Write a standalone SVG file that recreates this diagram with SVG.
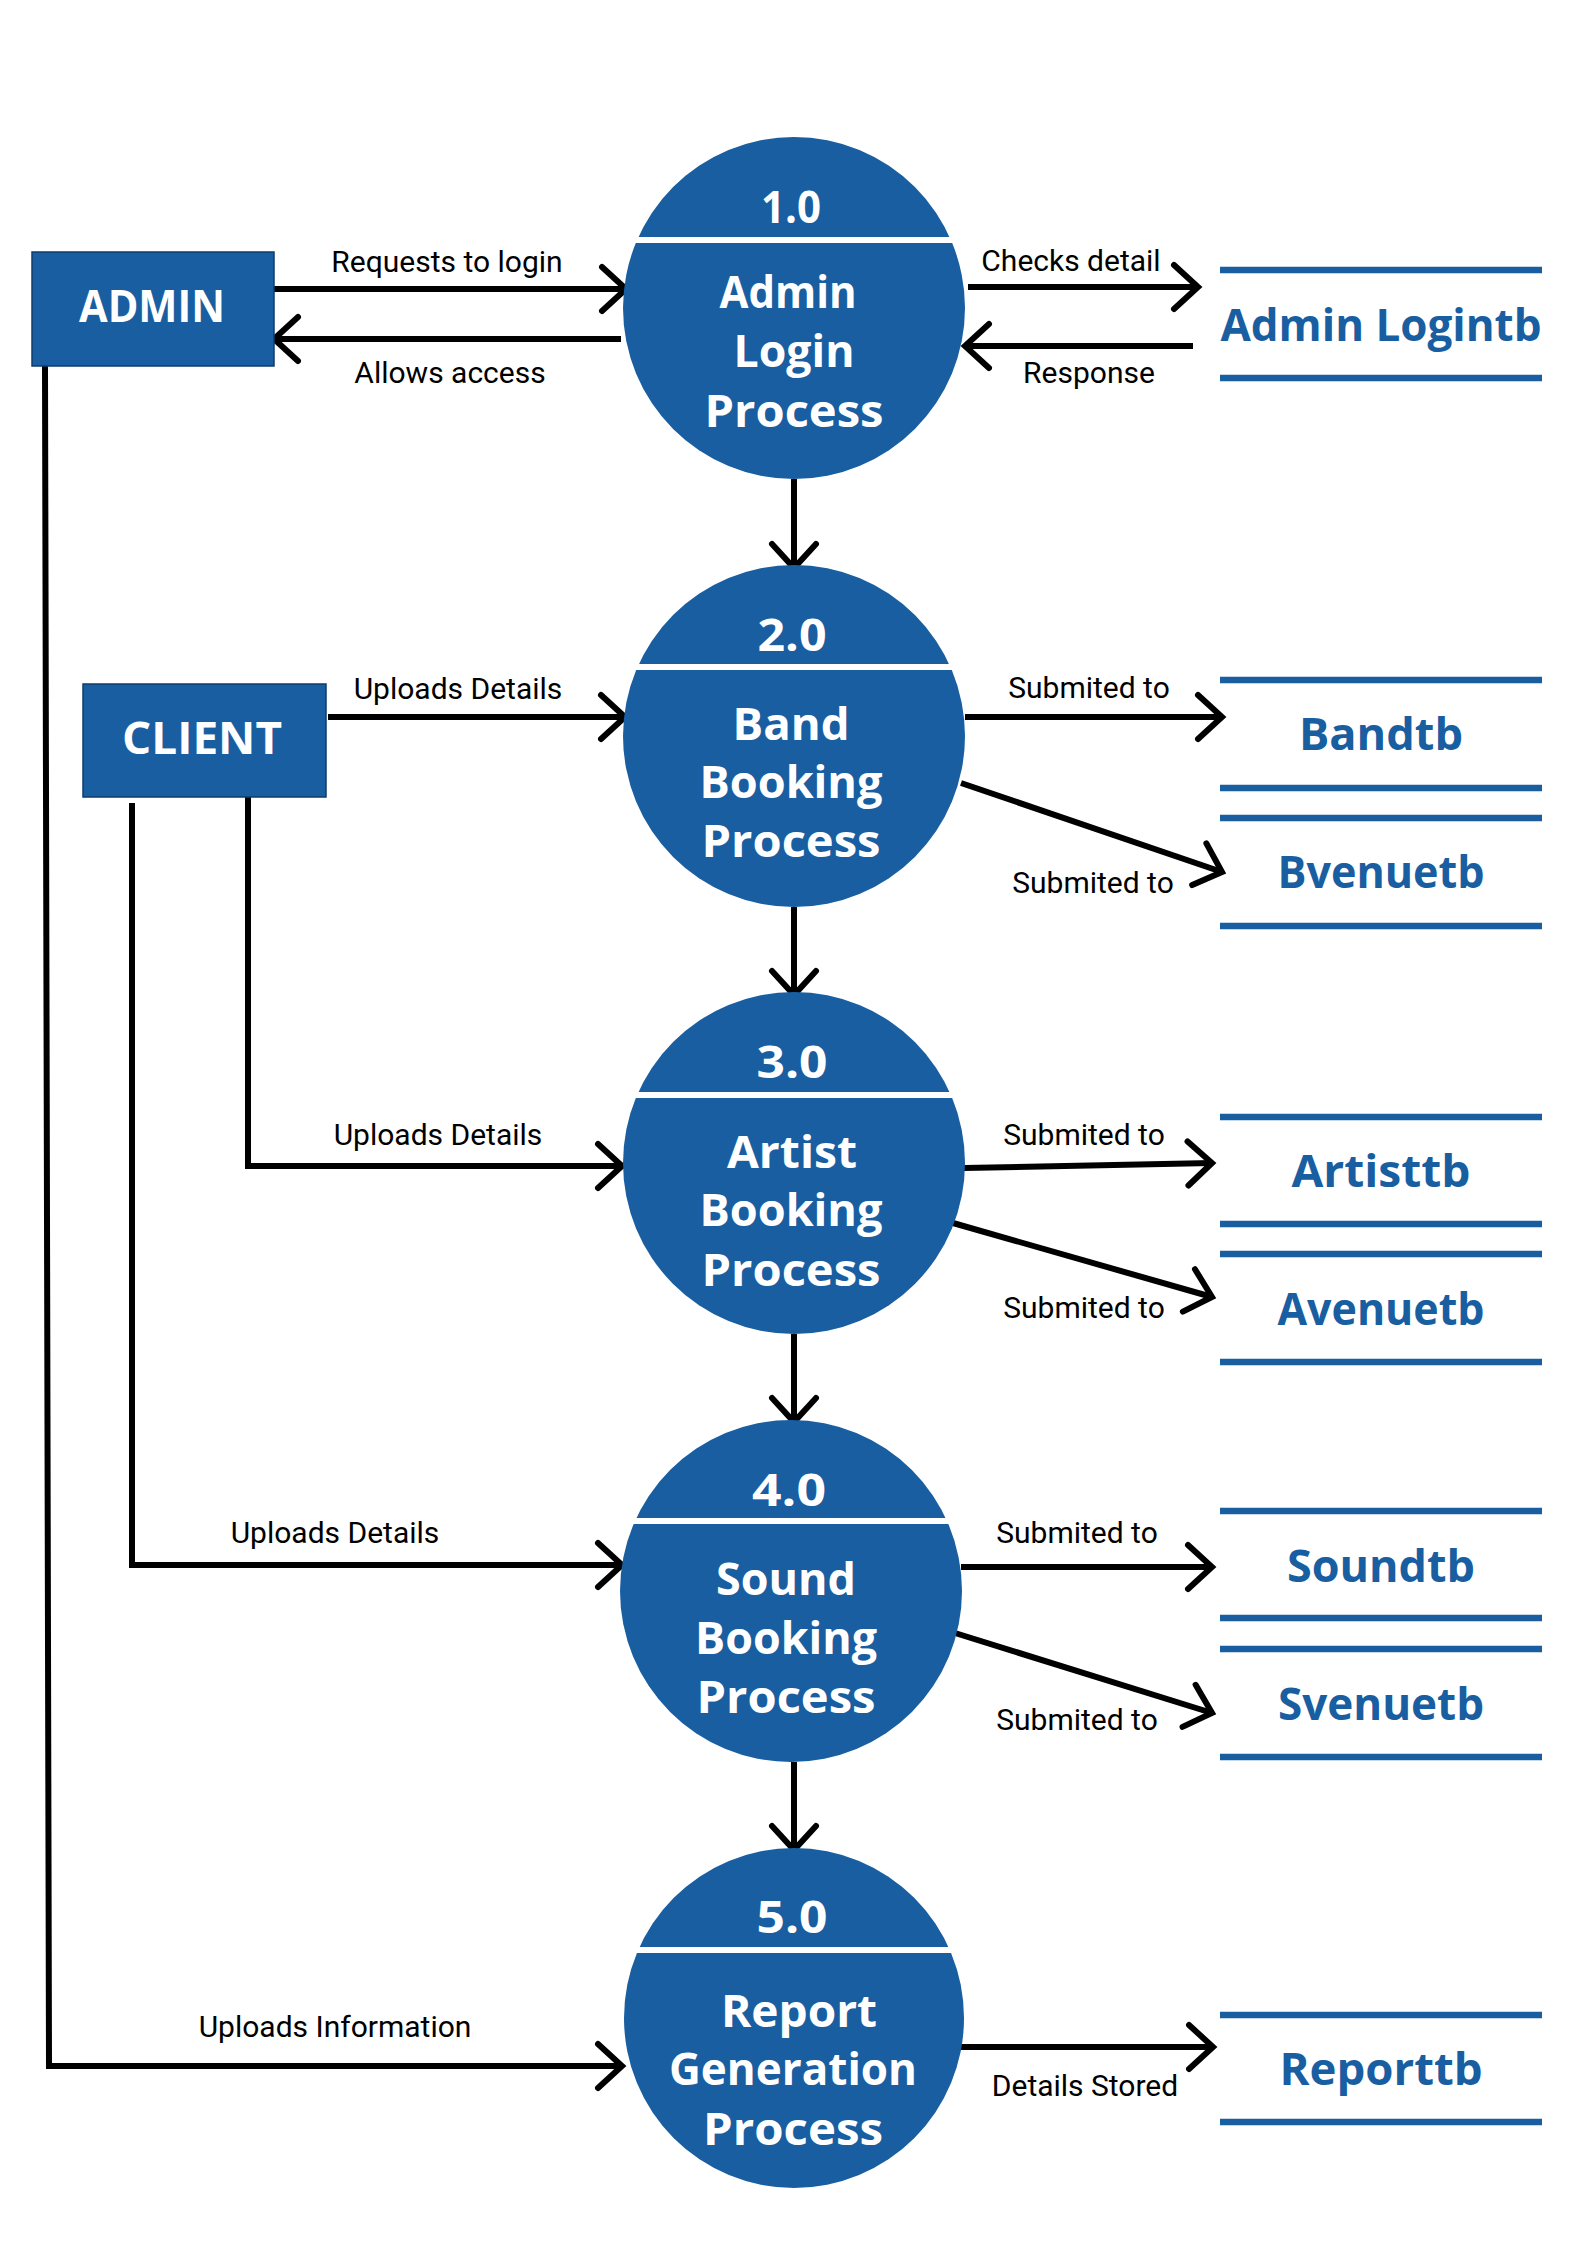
<svg xmlns="http://www.w3.org/2000/svg" width="1587" height="2245" viewBox="0 0 1587 2245">
<style>
.bg{fill:#ffffff}
.ent{fill:#185ea1;stroke:#0e3d6b;stroke-width:1.5}
.proc{fill:#185ea1}
.div{stroke:#ffffff;stroke-width:6}
.wt{fill:#ffffff;font-family:"Open Sans","Noto Sans","DejaVu Sans",sans-serif;font-weight:700;font-size:44px;text-anchor:middle}
.ds{stroke:#185ea1;stroke-width:6.5}
.dt{fill:#185ea1;font-family:"Open Sans","Noto Sans","DejaVu Sans",sans-serif;font-weight:700;font-size:44px;text-anchor:middle}
.cn{fill:none;stroke:#000000;stroke-width:6;marker-end:url(#ah)}
.lb{fill:#000000;font-family:Roboto,"Liberation Sans",sans-serif;font-size:30px;text-anchor:middle}
</style>
<defs>
<marker id="ah" markerUnits="userSpaceOnUse" viewBox="-32 -32 40 64" refX="0" refY="0" markerWidth="40" markerHeight="64" orient="auto" overflow="visible">
<path d="M-24,-22 L0,0 L-24,22" fill="none" stroke="#000000" stroke-width="6" stroke-linecap="round" stroke-linejoin="miter"/>
</marker>
</defs>
<rect class="bg" x="0" y="0" width="1587" height="2245"/>

<g id="connectors">
<path class="cn" d="M274 289 H626"/>
<path class="cn" d="M621 339 H274"/>
<path class="cn" d="M968 287 H1198"/>
<path class="cn" d="M1193 346 H965"/>
<path class="cn" d="M794 479 V568"/>
<path class="cn" d="M794 907 V995"/>
<path class="cn" d="M794 1334 V1422"/>
<path class="cn" d="M794 1762 V1850"/>
<path class="cn" d="M328 717 H625"/>
<path class="cn" d="M965 717 H1222"/>
<path class="cn" d="M961 783 L1222 872"/>
<path class="cn" d="M248 797 V1166 H622"/>
<path class="cn" d="M964 1168 L1212 1163"/>
<path class="cn" d="M953 1223 L1212 1297"/>
<path class="cn" d="M132 803 V1565 H622"/>
<path class="cn" d="M961 1567 H1212"/>
<path class="cn" d="M955 1633 L1212 1713"/>
<path class="cn" d="M45 366 L49 2066 H622"/>
<path class="cn" d="M961 2047 H1213"/>
<text class="lb" x="447" y="272">Requests to login</text>
<text class="lb" x="450" y="383">Allows access</text>
<text class="lb" x="1071" y="271">Checks detail</text>
<text class="lb" x="1089" y="383">Response</text>
<text class="lb" x="458" y="699">Uploads Details</text>
<text class="lb" x="1089" y="698">Submited to</text>
<text class="lb" x="1093" y="893">Submited to</text>
<text class="lb" x="438" y="1145">Uploads Details</text>
<text class="lb" x="1084" y="1145">Submited to</text>
<text class="lb" x="1084" y="1318">Submited to</text>
<text class="lb" x="335" y="1543">Uploads Details</text>
<text class="lb" x="1077" y="1543">Submited to</text>
<text class="lb" x="1077" y="1730">Submited to</text>
<text class="lb" x="335" y="2037">Uploads Information</text>
<text class="lb" x="1085" y="2096">Details Stored</text>
</g>

<g id="admin">
<rect class="ent" x="32" y="252" width="242" height="114"/>
<text class="wt" x="152" y="322" textLength="146" lengthAdjust="spacingAndGlyphs">ADMIN</text>
</g>
<g id="client">
<rect class="ent" x="83" y="684" width="243" height="113"/>
<text class="wt" x="202" y="754" textLength="160" lengthAdjust="spacingAndGlyphs">CLIENT</text>
</g>

<g id="p1">
<circle class="proc" cx="794" cy="308" r="171"/>
<line class="div" x1="634" y1="240" x2="954" y2="240"/>
<text class="wt" x="791" y="223" textLength="60" lengthAdjust="spacingAndGlyphs">1.0</text>
<text class="wt" x="788" y="308" textLength="137" lengthAdjust="spacingAndGlyphs">Admin</text>
<text class="wt" x="794" y="367" textLength="121" lengthAdjust="spacingAndGlyphs">Login</text>
<text class="wt" x="794" y="427" textLength="179" lengthAdjust="spacingAndGlyphs">Process</text>
</g>
<g id="p2">
<circle class="proc" cx="794" cy="736" r="171"/>
<line class="div" x1="634" y1="667" x2="954" y2="667"/>
<text class="wt" x="792" y="651" textLength="69" lengthAdjust="spacingAndGlyphs">2.0</text>
<text class="wt" x="791" y="740" textLength="117" lengthAdjust="spacingAndGlyphs">Band</text>
<text class="wt" x="791" y="798" textLength="183" lengthAdjust="spacingAndGlyphs">Booking</text>
<text class="wt" x="791" y="857" textLength="179" lengthAdjust="spacingAndGlyphs">Process</text>
</g>
<g id="p3">
<circle class="proc" cx="794" cy="1163" r="171"/>
<line class="div" x1="634" y1="1095" x2="954" y2="1095"/>
<text class="wt" x="792" y="1078" textLength="71" lengthAdjust="spacingAndGlyphs">3.0</text>
<text class="wt" x="792" y="1168" textLength="130" lengthAdjust="spacingAndGlyphs">Artist</text>
<text class="wt" x="791" y="1226" textLength="183" lengthAdjust="spacingAndGlyphs">Booking</text>
<text class="wt" x="791" y="1286" textLength="179" lengthAdjust="spacingAndGlyphs">Process</text>
</g>
<g id="p4">
<circle class="proc" cx="791" cy="1591" r="171"/>
<line class="div" x1="631" y1="1521" x2="951" y2="1521"/>
<text class="wt" x="789" y="1506" textLength="74" lengthAdjust="spacingAndGlyphs">4.0</text>
<text class="wt" x="786" y="1595" textLength="140" lengthAdjust="spacingAndGlyphs">Sound</text>
<text class="wt" x="786" y="1654" textLength="182" lengthAdjust="spacingAndGlyphs">Booking</text>
<text class="wt" x="786" y="1713" textLength="179" lengthAdjust="spacingAndGlyphs">Process</text>
</g>
<g id="p5">
<circle class="proc" cx="794" cy="2018" r="170"/>
<line class="div" x1="634" y1="1950" x2="954" y2="1950"/>
<text class="wt" x="792" y="1933" textLength="71" lengthAdjust="spacingAndGlyphs">5.0</text>
<text class="wt" x="799" y="2027" textLength="156" lengthAdjust="spacingAndGlyphs">Report</text>
<text class="wt" x="793" y="2085" textLength="248" lengthAdjust="spacingAndGlyphs">Generation</text>
<text class="wt" x="793" y="2145" textLength="180" lengthAdjust="spacingAndGlyphs">Process</text>
</g>

<g id="ds-adminlogintb">
<line class="ds" x1="1220" y1="270" x2="1542" y2="270"/>
<line class="ds" x1="1220" y1="378" x2="1542" y2="378"/>
<text class="dt" x="1381" y="341" textLength="321" lengthAdjust="spacingAndGlyphs">Admin Logintb</text>
</g>
<g id="ds-bandtb">
<line class="ds" x1="1220" y1="680" x2="1542" y2="680"/>
<line class="ds" x1="1220" y1="788" x2="1542" y2="788"/>
<text class="dt" x="1381" y="750" textLength="164" lengthAdjust="spacingAndGlyphs">Bandtb</text>
</g>
<g id="ds-bvenuetb">
<line class="ds" x1="1220" y1="818" x2="1542" y2="818"/>
<line class="ds" x1="1220" y1="926" x2="1542" y2="926"/>
<text class="dt" x="1381" y="888" textLength="207" lengthAdjust="spacingAndGlyphs">Bvenuetb</text>
</g>
<g id="ds-artisttb">
<line class="ds" x1="1220" y1="1117" x2="1542" y2="1117"/>
<line class="ds" x1="1220" y1="1224" x2="1542" y2="1224"/>
<text class="dt" x="1381" y="1187" textLength="179" lengthAdjust="spacingAndGlyphs">Artisttb</text>
</g>
<g id="ds-avenuetb">
<line class="ds" x1="1220" y1="1254" x2="1542" y2="1254"/>
<line class="ds" x1="1220" y1="1362" x2="1542" y2="1362"/>
<text class="dt" x="1381" y="1325" textLength="207" lengthAdjust="spacingAndGlyphs">Avenuetb</text>
</g>
<g id="ds-soundtb">
<line class="ds" x1="1220" y1="1511" x2="1542" y2="1511"/>
<line class="ds" x1="1220" y1="1618" x2="1542" y2="1618"/>
<text class="dt" x="1381" y="1582" textLength="188" lengthAdjust="spacingAndGlyphs">Soundtb</text>
</g>
<g id="ds-svenuetb">
<line class="ds" x1="1220" y1="1649" x2="1542" y2="1649"/>
<line class="ds" x1="1220" y1="1757" x2="1542" y2="1757"/>
<text class="dt" x="1381" y="1720" textLength="206" lengthAdjust="spacingAndGlyphs">Svenuetb</text>
</g>
<g id="ds-reporttb">
<line class="ds" x1="1220" y1="2015" x2="1542" y2="2015"/>
<line class="ds" x1="1220" y1="2122" x2="1542" y2="2122"/>
<text class="dt" x="1381" y="2085" textLength="203" lengthAdjust="spacingAndGlyphs">Reporttb</text>
</g>
</svg>
